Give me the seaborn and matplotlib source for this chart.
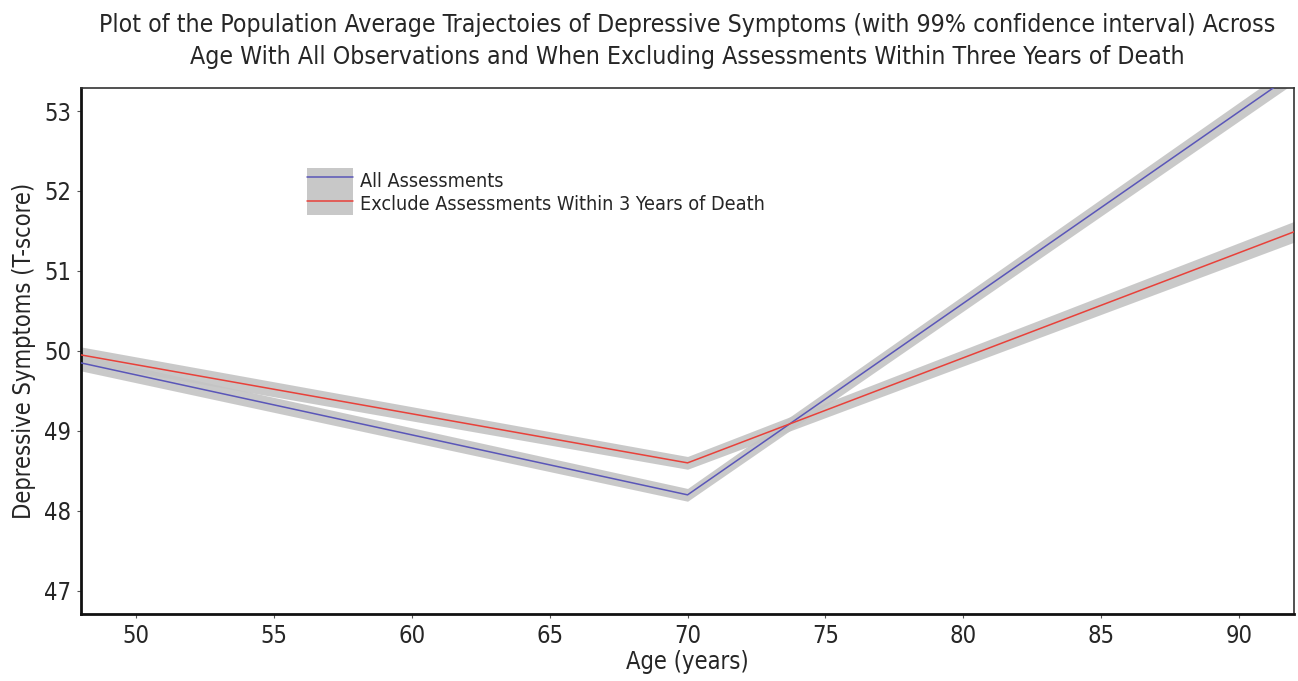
import numpy as np
import pandas as pd
import matplotlib
matplotlib.use("Agg")
import matplotlib.pyplot as plt
from matplotlib.patches import Patch
from matplotlib.lines import Line2D
import seaborn as sns

# Piecewise-linear trajectories (knots at ages 48, 70 and 92)
ages = [48, 70, 92]
all_mean = [49.85, 48.20, 53.47]
all_half_ci = [0.10, 0.08, 0.12]
excl_mean = [49.95, 48.60, 51.49]
excl_half_ci = [0.10, 0.08, 0.13]

series_names = ["All Assessments", "Exclude Assessments Within 3 Years of Death"]
series_colors = ["#5a56b8", "#e8413a"]

x_ticks = [50, 55, 60, 65, 70, 75, 80, 85, 90]
y_ticks = [47, 48, 49, 50, 51, 52, 53]

df = pd.DataFrame({
    "age": ages * 2,
    "score": all_mean + excl_mean,
    "half": all_half_ci + excl_half_ci,
    "series": [series_names[0]] * 3 + [series_names[1]] * 3,
})

sns.set_style("white")
plt.rcParams["font.family"] = ["DejaVu Sans"]
plt.rcParams["font.stretch"] = "condensed"

fig = plt.figure(figsize=(12.98, 6.81), dpi=100)
ax = fig.add_axes([0.0624, 0.0984, 0.9346, 0.7726])

band_color = "#c4c4c4"
for name in series_names:
    sub = df[df["series"] == name]
    ax.fill_between(sub["age"], sub["score"] - sub["half"], sub["score"] + sub["half"],
                    color=band_color, alpha=0.9, linewidth=0, zorder=1)

sns.lineplot(data=df, x="age", y="score", hue="series", palette=series_colors,
             hue_order=series_names, linewidth=1.1, legend=False, ax=ax, zorder=3)

ax.set_xlim(48, 92)
ax.set_ylim(46.71, 53.29)
ax.set_xticks(x_ticks)
ax.set_yticks(y_ticks)
ax.tick_params(axis="both", labelsize=17, length=3, width=0.8, direction="out",
               color="#555555", pad=4, left=True, bottom=True)

for side in ["left", "bottom"]:
    ax.spines[side].set_color("#111111")
    ax.spines[side].set_linewidth(2.0)
for side in ["top", "right"]:
    ax.spines[side].set_color("#333333")
    ax.spines[side].set_linewidth(1.2)

ax.set_xlabel("Age (years)", fontsize=17, labelpad=2)
ax.set_ylabel("Depressive Symptoms (T-score)", fontsize=17, labelpad=6)
ax.set_title("Plot of the Population Average Trajectoies of Depressive Symptoms (with 99% confidence interval) Across\n"
             "Age With All Observations and When Excluding Assessments Within Three Years of Death",
             fontsize=17.8, pad=17, linespacing=1.42)

handles = [(Patch(facecolor="#c8c8c8", edgecolor="none"),
            Line2D([], [], color=c, linewidth=1.1)) for c in series_colors]
ax.legend(handles, series_names, loc="upper left", bbox_to_anchor=(0.18, 0.862),
          frameon=False, fontsize=14.2, handlelength=2.3, handleheight=1.45,
          handletextpad=0.35, labelspacing=0.0, borderaxespad=0)

fig.savefig("out.png", dpi=100)
